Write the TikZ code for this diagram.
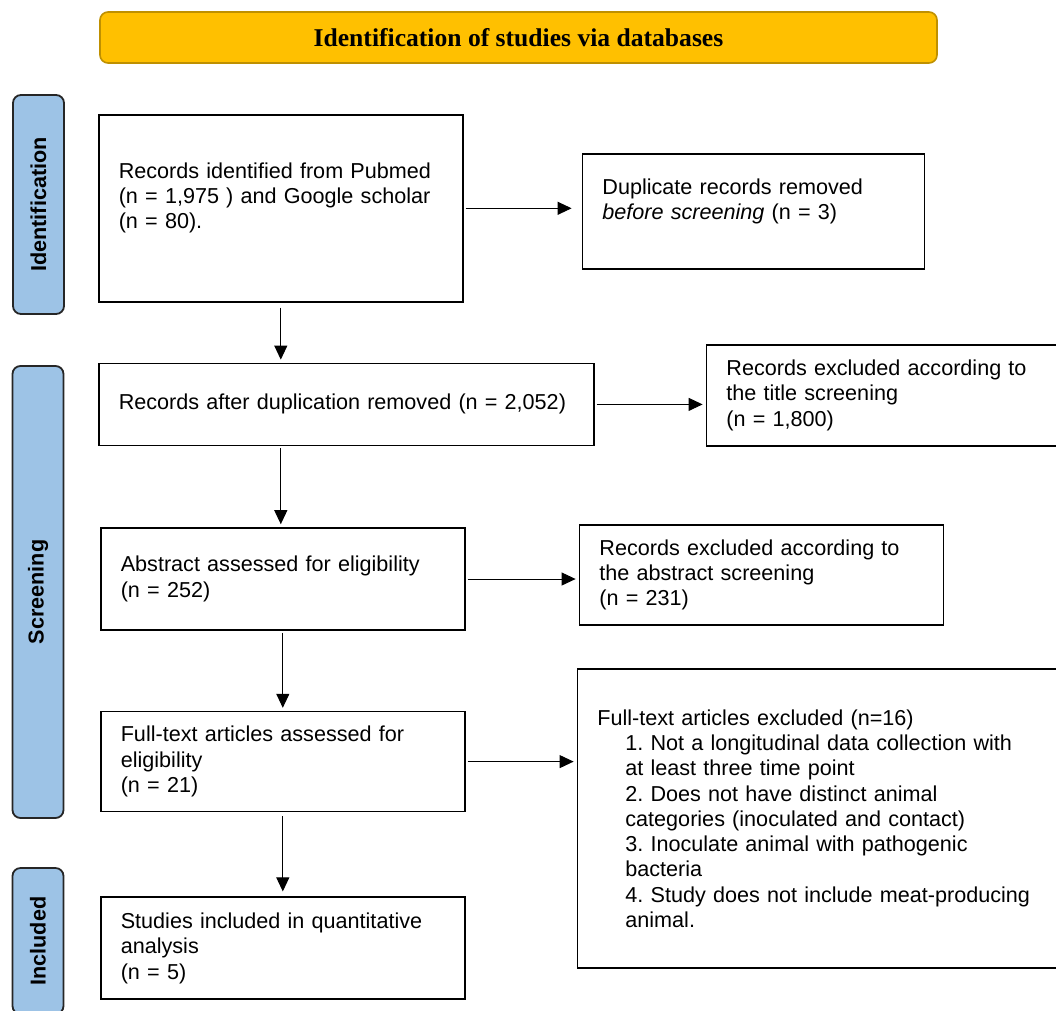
\documentclass[tikz,border=0pt]{standalone}
\usepackage{fontspec}
\setmainfont{Liberation Serif}
\setsansfont{Liberation Sans}
\usetikzlibrary{arrows.meta,positioning}

\definecolor{bannerfill}{HTML}{FFC000}
\definecolor{bannerline}{HTML}{BF9000}
\definecolor{barfill}{HTML}{9DC3E6}
\definecolor{barline}{HTML}{262626}

\newcommand{\boxfont}{\sffamily\frenchspacing\fontsize{21.6}{25.3}\selectfont}
\newcommand{\ind}{\hspace*{28pt}}

\begin{document}
\begin{tikzpicture}[x=1pt, y=-1pt, ->, >={Triangle[length=14pt,width=13pt]}, line width=1pt,
  shorten <=2pt, shorten >=3pt, node distance=60pt,
  main box/.style={rectangle, draw, line width=1.6pt, align=left, inner xsep=20pt, inner ysep=0pt, font=\boxfont, anchor=north west},
  side bar/.style={rectangle, draw=barline, fill=barfill, line width=1.8pt, rounded corners=8pt, rotate=90, minimum height=51pt, inner sep=0pt, font=\sffamily\bfseries\fontsize{21.6}{25}\selectfont},
  banner/.style={rectangle, draw=bannerline, fill=bannerfill, line width=1.6pt, rounded corners=8pt, minimum width=837pt, minimum height=51pt, font=\rmfamily\bfseries\fontsize{25.6}{28}\selectfont}]
\useasboundingbox (0,0) rectangle (1056,1010);
\clip (0,0) rectangle (1056,1010);

\node[banner] (head) at (518.5,37.5) {Identification of studies via databases};

\node[side bar, minimum width=219pt] (ident) at (38.5,204.5) {Identification};
\node[side bar, minimum width=452pt] (screen) at (38,592) {Screening};
\node[side bar, minimum width=146pt] (incl) at (38,941) {Included};

\node[main box, text width=324pt, minimum height=187pt] (b1) at (98,114)
  {Records identified from Pubmed\\(n = 1,975 ) and Google scholar\\(n = 80).\\[-8pt] \strut};
\node[main box, text width=455pt, minimum height=82pt] (b2) [below=60pt of b1.south west, anchor=north west]
  {Records after duplication removed (n = 2,052)};
\node[main box, text width=324pt, minimum height=102pt] (b3) [below=81pt of b2.south west, anchor=north west, xshift=2pt]
  {Abstract assessed for eligibility\\(n = 252)};
\node[main box, text width=324pt, minimum height=100pt] (b4) [below=80pt of b3.south west, anchor=north west]
  {Full-text articles assessed for\\eligibility\\(n = 21)};
\node[main box, text width=324pt, minimum height=102pt] (b5) [below=84pt of b4.south west, anchor=north west]
  {Studies included in quantitative\\analysis\\(n = 5)};

\node[main box, text width=302pt, minimum height=115pt] (dup) [right=118pt of b1.east, anchor=west, yshift=-3pt]
  {Duplicate records removed\\\textit{before screening} (n = 3)\\[-9pt] \strut};
\node[main box, text width=340pt, minimum height=101pt] (extitle) [right=111pt of b2.east, anchor=west, yshift=9pt]
  {Records excluded according to\\the title screening\\(n = 1,800)};
\node[main box, text width=324pt, minimum height=100pt] (exabs) [right=113pt of b3.east, anchor=west, yshift=4pt]
  {Records excluded according to\\the abstract screening\\(n = 231)};
\node[main box, text width=460pt, minimum height=299pt] (exfull) [right=111pt of b4.east, anchor=west, yshift=-57pt]
  {Full-text articles excluded (n=16)\\
   \ind 1. Not a longitudinal data collection with\\
   \ind at least three time point\\
   \ind 2. Does not have distinct animal\\
   \ind categories (inoculated and contact)\\
   \ind 3. Inoculate animal with pathogenic\\
   \ind bacteria\\
   \ind 4. Study does not include meat-producing\\
   \ind animal.};

% exclusions
\draw[shorten >=10pt] (b1.east) -- (b1.east -| dup.west);
\draw (b2.east) -- (b2.east -| extitle.west);
\draw (b3.east) -- (b3.east -| exabs.west);
\draw (b4.east) -- (b4.east -| exfull.west);

% main flow
\draw[shorten <=5pt] (b1.south) -- (b1.south |- b2.north);
\draw (b1.south |- b2.south) -- (b1.south |- b3.north);
\draw (b3.south) -- (b4.north);
\draw[shorten <=4pt, shorten >=5pt] (b4.south) -- (b5.north);

\end{tikzpicture}
\end{document}
